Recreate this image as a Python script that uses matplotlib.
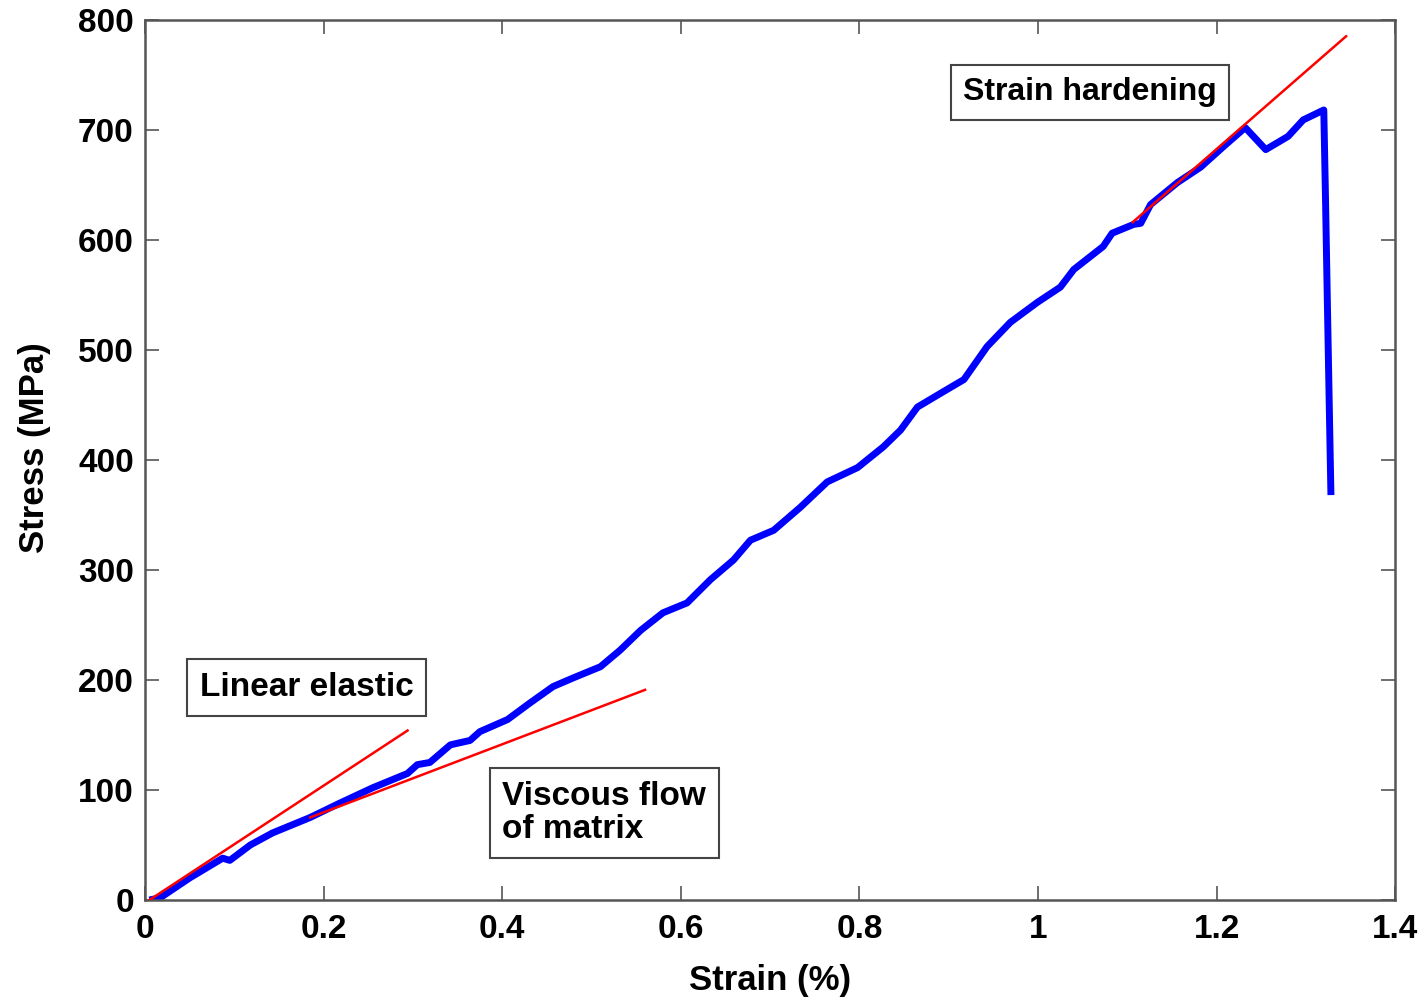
import numpy as np
import matplotlib.pyplot as plt

plt.rcParams['font.family'] = ['Liberation Sans', 'DejaVu Sans']
plt.rcParams['font.weight'] = 'bold'

# measured stress-strain curve (strain %, stress MPa)
strain = [0.005, 0.017, 0.05, 0.087, 0.095, 0.118, 0.143, 0.185, 0.218, 0.255,
          0.294, 0.305, 0.319, 0.342, 0.364, 0.375, 0.406, 0.431, 0.457, 0.480,
          0.510, 0.532, 0.555, 0.580, 0.607, 0.633, 0.659, 0.678, 0.704, 0.734,
          0.764, 0.798, 0.827, 0.846, 0.865, 0.894, 0.917, 0.943, 0.969, 0.999,
          1.025, 1.040, 1.073, 1.083, 1.107, 1.115, 1.126, 1.156, 1.182, 1.208,
          1.232, 1.255, 1.280, 1.297, 1.320, 1.322, 1.324, 1.326, 1.328]
stress = [0, 2, 20, 38, 36, 50, 61, 75, 88, 102,
          115, 123, 125, 141, 145, 153, 164, 179, 194, 202,
          212, 227, 245, 261, 270, 291, 309, 327, 336, 357,
          380, 393, 412, 427, 448, 462, 473, 503, 525, 543,
          557, 573, 594, 606, 614, 615, 632, 652, 666, 685,
          702, 682, 694, 709, 718, 634, 543, 455, 368]

# fitted regions
elastic_x = [0.005, 0.294]
elastic_y = [0, 154]
viscous_x = [0.185, 0.560]
viscous_y = [75, 191]
harden_x = [1.106, 1.345]
harden_y = [616, 785]

fig = plt.figure(figsize=(14.24, 9.98), dpi=100)
ax = fig.add_axes([0.1018, 0.0982, 0.878, 0.882])

ax.plot(strain, stress, color='#0000ff', lw=5, solid_joinstyle='round',
        solid_capstyle='butt', zorder=2)
ax.plot(elastic_x, elastic_y, color='#ff0000', lw=1.8, zorder=3)
ax.plot(viscous_x, viscous_y, color='#ff0000', lw=1.8, zorder=3)
ax.plot(harden_x, harden_y, color='#ff0000', lw=1.8, zorder=3)

ax.set_xlim(0, 1.4)
ax.set_ylim(0, 800)
ax.set_xticks([0, 0.2, 0.4, 0.6, 0.8, 1, 1.2, 1.4])
ax.set_xticklabels(['0', '0.2', '0.4', '0.6', '0.8', '1', '1.2', '1.4'])
ax.set_yticks(range(0, 801, 100))
ax.tick_params(direction='in', length=10, width=1.2, colors='#555555',
               labelcolor='black', labelsize=24, top=True, right=True)
ax.tick_params(axis='x', pad=10)
ax.tick_params(axis='y', pad=8)
for s in ax.spines.values():
    s.set_color('#555555')
    s.set_linewidth(1.8)

ax.set_xlabel('Strain (%)', fontsize=25, fontweight='bold', labelpad=14)
ax.set_ylabel('Stress (MPa)', fontsize=25, fontweight='bold')
ax.yaxis.set_label_coords(-0.075, 0.514)

box = dict(boxstyle='square,pad=0.38', fc='white', ec='#444444', lw=1.5)
ax.text(0.0616, 193, 'Linear elastic', fontsize=24, fontweight='bold',
        va='center', ha='left', bbox=box)
ax.text(0.400, 79, 'Viscous flow\nof matrix', fontsize=24, fontweight='bold',
        va='center', ha='left', linespacing=1.1, bbox=box)
ax.text(0.916, 734, 'Strain hardening', fontsize=23, fontweight='bold',
        va='center', ha='left', bbox=box)

fig.savefig('out.png', dpi=100)
